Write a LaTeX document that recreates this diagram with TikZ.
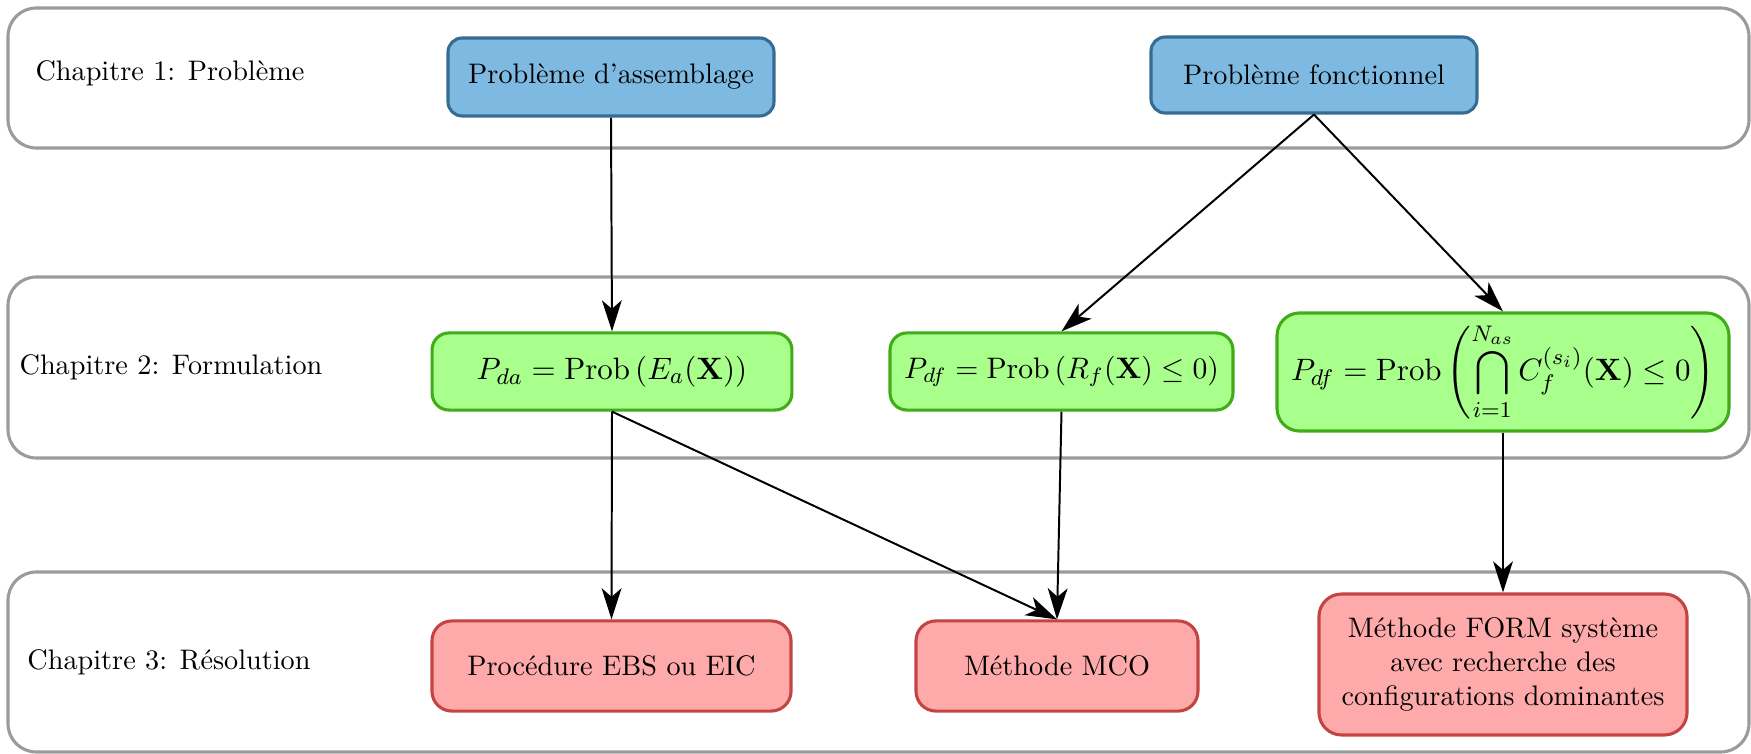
\documentclass[tikz,border=0pt]{standalone}
\usepackage{amsmath}
\usepackage{graphicx}
\usetikzlibrary{arrows.meta}
\definecolor{bluefill}{RGB}{125,185,225}
\definecolor{bluedraw}{RGB}{55,108,146}
\definecolor{greenfill}{RGB}{168,255,140}
\definecolor{greendraw}{RGB}{64,172,24}
\definecolor{redfill}{RGB}{255,170,170}
\definecolor{reddraw}{RGB}{196,68,68}
\definecolor{framegray}{RGB}{155,155,155}
\tikzset{
  chapbox/.style={draw=framegray,line width=1.1pt,rounded corners=10pt},
  chaplabel/.style={inner sep=0pt,anchor=center},
  probbox/.style={draw=bluedraw,fill=bluefill,line width=1.1pt,rounded corners=5pt,align=center,inner sep=2pt},
  formbox/.style={draw=greendraw,fill=greenfill,line width=1.1pt,rounded corners=6pt,align=center,inner sep=2pt,font=\fontsize{10.95}{13.6}\selectfont},
  resbox/.style={draw=reddraw,fill=redfill,line width=1.1pt,rounded corners=7pt,align=center,inner sep=2pt},
  flow/.style={line width=0.7pt,-{Stealth[length=11pt,width=7pt,inset=3pt]}}
}
\begin{document}
\begin{tikzpicture}[x=0.354pt,y=-0.354pt]
\useasboundingbox (0,0) rectangle (1751,754);
% chapter frames
\draw[chapbox] (8,8) rectangle (1749,148);
\draw[chapbox] (8,277) rectangle (1749,458);
\draw[chapbox] (8,572) rectangle (1749,752);
\node[chaplabel] (c1) at (170,73) {Chapitre 1: Probl\`eme};
\node[chaplabel] (c2) at (171,367) {Chapitre 2: Formulation};
\node[chaplabel] (c3) at (169,662) {Chapitre 3: R\'esolution};
% nodes
\node[probbox,minimum width=115.4pt,minimum height=27.6pt] (asm) at (611,77) {Probl\`eme d'assemblage};
\node[probbox,minimum width=115.4pt,minimum height=26.9pt] (fon) at (1314,75) {Probl\`eme fonctionnel};
\node[formbox,minimum width=127.4pt,minimum height=27.3pt] (pda) at (612,371.5) {$P_{da}=\mathrm{Prob}\left(E_a(\mathbf{X})\right)$};
\node[formbox,minimum width=121.4pt,minimum height=27.3pt,font=\normalsize] (pdf1) at (1061.5,371.5) {\scalebox{1.05}{$P_{df}=\mathrm{Prob}\left(R_f(\mathbf{X})\leq 0\right)$}};
\node[formbox,minimum width=160pt,minimum height=41.8pt,rounded corners=8pt] (pdf2) at (1503,372) {$\displaystyle P_{df}=\mathrm{Prob}\left(\bigcap_{i=1}^{N_{as}} C_f^{(s_i)}(\mathbf{X})\leq 0\right)$};
\node[resbox,minimum width=127.1pt,minimum height=31.9pt] (ebs) at (611.5,666) {Proc\'edure EBS ou EIC};
\node[resbox,minimum width=99.8pt,minimum height=31.9pt] (mco) at (1057,666) {M\'ethode MCO};
\node[resbox,minimum width=130.3pt,minimum height=49.9pt,rounded corners=8pt] (form) at (1503,664.5) {M\'ethode FORM syst\`eme\\ avec recherche des\\ configurations dominantes};
% connectors
\draw[flow] (asm.south) -- (pda.north);
\draw[flow] (fon.south) -- (pdf1.north);
\draw[flow] (fon.south) -- (pdf2.north);
\draw[flow] (pda.south) -- (ebs.north);
\draw[flow] (pda.south) -- (mco.north);
\draw[flow] (pdf1.south) -- (mco.north);
\draw[flow] (pdf2.south) -- (form.north);
\end{tikzpicture}
\end{document}
